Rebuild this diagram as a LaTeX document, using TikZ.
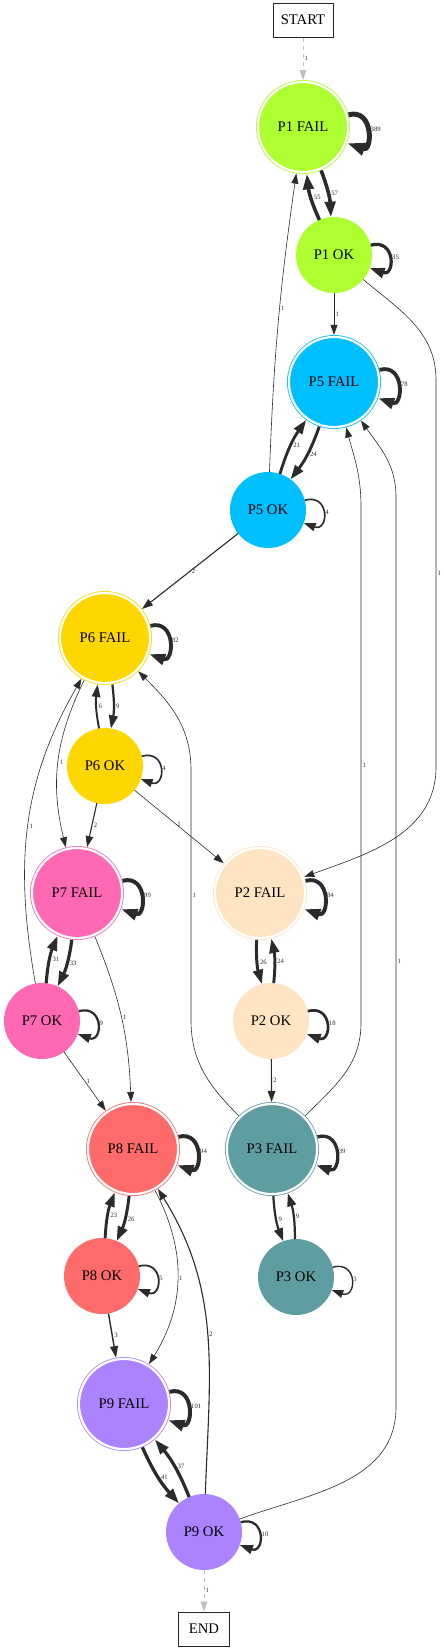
\documentclass[tikz,border=0pt]{standalone}
\usepackage{fontspec}
\setmainfont{Liberation Serif}
\usetikzlibrary{arrows.meta}

\definecolor{pone}{HTML}{ADFF2F}
\definecolor{ptwo}{HTML}{FFE4C4}
\definecolor{pthree}{HTML}{5F9EA0}
\definecolor{pfive}{HTML}{00BFFF}
\definecolor{psix}{HTML}{FFD700}
\definecolor{pseven}{HTML}{FF69B4}
\definecolor{peight}{HTML}{FF6A6A}
\definecolor{pnine}{HTML}{AB82FF}
\definecolor{edgegray}{HTML}{2B2B2B}
\definecolor{flowgray}{HTML}{C0C0C0}

\tikzset{
  failnode/.style={circle, fill=#1, draw=#1, double=white, double distance=1.65pt,
    line width=0.6pt, minimum size=67.6pt, inner sep=0pt, outer sep=1.5pt,
    font=\fontsize{11}{13}\selectfont},
  oknode/.style={circle, fill=#1, minimum size=57pt, inner sep=0pt, outer sep=0pt,
    font=\fontsize{11}{13}\selectfont},
  endbox/.style={draw=black!85, line width=0.75pt, fill=white, minimum width=#1,
    minimum height=25.5pt, inner sep=0pt, font=\fontsize{11}{13}\selectfont},
  cnt/.style={draw=edgegray, line width={(0.45+0.55*ln(#1))*1pt},
    -{Triangle[length=6.7pt 1.85, width=4.7pt 1.17]}},
  flow/.style={draw=flowgray, dashed, line width=0.5pt,
    -{Triangle[length=7.5pt, width=5.2pt]}},
  lbl/.style={font=\fontsize{5}{6}\selectfont, text=edgegray, inner sep=1pt}
}

\begin{document}
\begin{tikzpicture}[x=0.75pt, y=0.75pt]
  \useasboundingbox (0,0) rectangle (443,-1650);

  % Draw the states
  \foreach \n/\x/\y/\c/\t in {p1f/303/127/pone/P1 FAIL, p5f/334/382/pfive/P5 FAIL,
      p6f/105/638/psix/P6 FAIL, p7f/77/893/pseven/P7 FAIL, p2f/260/893/ptwo/P2 FAIL,
      p3f/272/1149/pthree/P3 FAIL, p8f/133/1149/peight/P8 FAIL, p9f/124/1404/pnine/P9 FAIL} {
    \node[failnode=\c] (\n) at (\x,-\y) {\t};
  }
  \foreach \n/\x/\y/\c/\t in {p1ok/334/255/pone/P1 OK, p5ok/268/510/pfive/P5 OK,
      p6ok/105/766/psix/P6 OK, p7ok/42/1021/pseven/P7 OK, p2ok/271/1021/ptwo/P2 OK,
      p3ok/296/1277/pthree/P3 OK, p8ok/102/1276/peight/P8 OK, p9ok/204/1532/pnine/P9 OK} {
    \node[oknode=\c] (\n) at (\x,-\y) {\t};
  }
  \node[endbox=45pt] (start) at (303,-20) {START};
  \node[endbox=38pt] (end) at (204,-1629) {END};

  % Self loops
  \foreach \n/\k in {p1f/389, p1ok/35, p5f/78, p5ok/4, p6f/82, p6ok/4, p7f/99, p7ok/9,
      p2f/84, p2ok/18, p3f/39, p3ok/3, p8f/94, p8ok/5, p9f/101, p9ok/10} {
    \draw[cnt=\k] (\n) to[out=15, in=-20, distance=20pt] node[lbl, right] {\k} (\n);
  }

  % Between FAIL and OK of the same state
  \foreach \a/\b/\k/\g in {p1f/p1ok/57/9, p1ok/p1f/55/9, p5f/p5ok/24/9, p5ok/p5f/21/9,
      p6f/p6ok/9/9, p6ok/p6f/6/9, p7f/p7ok/33/9, p7ok/p7f/31/9,
      p2f/p2ok/26/-9, p2ok/p2f/24/-9, p3f/p3ok/9/-9, p3ok/p3f/9/-9,
      p8f/p8ok/26/9, p8ok/p8f/23/9, p9f/p9ok/41/-9, p9ok/p9f/37/-9} {
    \draw[cnt=\k] (\a) to[bend left=\g] node[lbl, right] {\k} (\b);
  }

  % Start and end
  \draw[flow] (start) -- node[lbl, right] {1} (p1f);
  \draw[flow] (p9ok) -- node[lbl, right] {1} (end);

  % Other moves
  \draw[cnt=1] (p1ok) -- node[lbl, right] {1} (p5f);
  \draw[cnt=1] (p5ok) to[bend left=3] node[lbl, right, pos=.55] {1} (p1f);
  \draw[cnt=1] (p1ok) to[out=-40, in=90] (436,-380) -- node[lbl, right] {1} (436,-767)
    to[out=-90, in=20] (p2f);
  \draw[cnt=2] (p5ok) -- node[lbl, right] {2} (p6f);
  \draw[cnt=1] (p6f) to[bend right=20] node[lbl, right] {1} (p7f);
  \draw[cnt=1] (p7ok) to[out=100, in=240] node[lbl, right] {1} (p6f);
  \draw[cnt=2] (p6ok) -- node[lbl, right] {2} (p7f);
  \draw[cnt=1] (p6ok) -- node[lbl, above=-1pt] {1} (p2f);
  \draw[cnt=1] (p3f) to[out=135, in=-90] (191,-1020) -- node[lbl, right] {1} (191,-770)
    to[out=90, in=-45] (p6f);
  \draw[cnt=1] (p7f) to[bend left=10] node[lbl, right] {1} (p8f);
  \draw[cnt=1] (p7ok) -- node[lbl, right] {1} (p8f);
  \draw[cnt=2] (p2ok) -- node[lbl, right] {2} (p3f);
  \draw[cnt=1] (p3f) to[out=45, in=-90] (361,-1023) -- node[lbl, right] {1} (361,-507)
    to[out=90, in=-75] (p5f);
  \draw[cnt=1] (p9ok) to[out=20, in=-90] (396,-1407) -- node[lbl, right, pos=.49] {1} (396,-497)
    to[out=90, in=-55] (p5f);
  \draw[cnt=1] (p8f) to[bend left=30] node[lbl, right] {1} (p9f);
  \draw[cnt=3] (p8ok) -- node[lbl, right] {3} (p9f);
  \draw[cnt=2] (p9ok) to[out=88, in=-58] node[lbl, right] {2} (p8f);
\end{tikzpicture}
\end{document}
